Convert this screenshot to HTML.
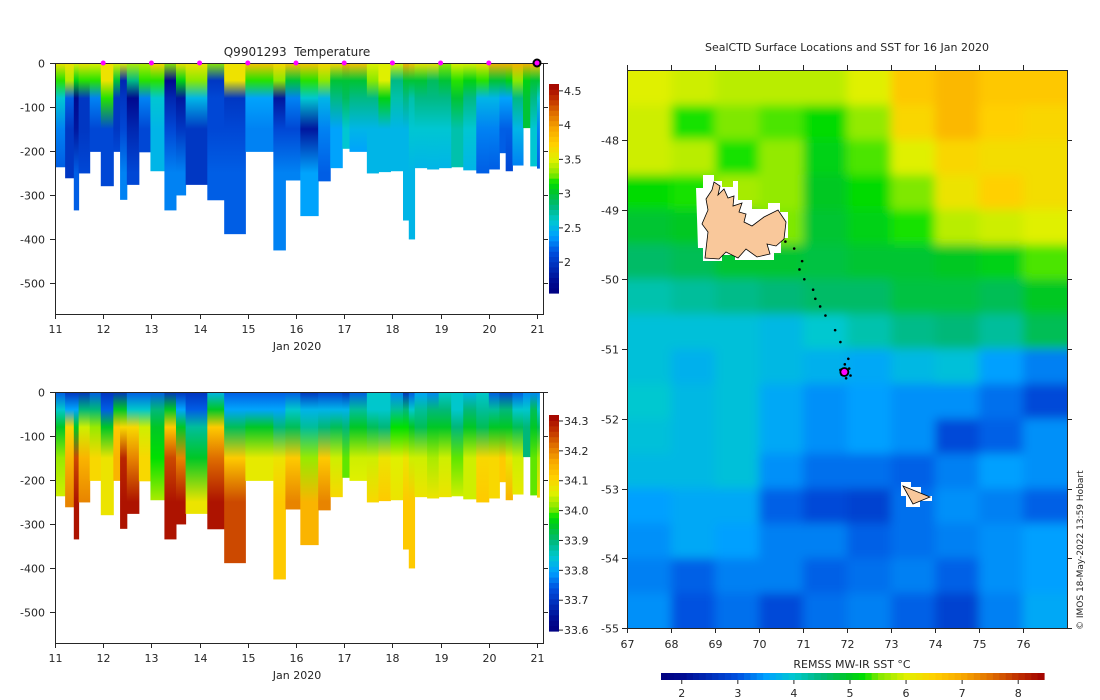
<!DOCTYPE html>
<html><head><meta charset="utf-8"><style>
html,body{margin:0;padding:0;background:#fff;}
svg{display:block;font-family:"DejaVu Sans","Liberation Sans",sans-serif;}
text{fill:#262626;font-size:11px;}
</style></head><body>
<svg id="fig" width="1100" height="700" viewBox="0 0 1100 700" xmlns="http://www.w3.org/2000/svg">
<defs id="defs">
<filter id="blurF" x="-0.1" y="-0.1" width="1.2" height="1.2"><feGaussianBlur stdDeviation="5"/></filter>
<clipPath id="mapClip"><rect x="627" y="70" width="440" height="558"/></clipPath>
<clipPath id="topClip"><rect x="55" y="63" width="488" height="251"/></clipPath>
<clipPath id="botClip"><rect x="55" y="392" width="488" height="251"/></clipPath>
</defs>
<g id="layer"></g>
</svg>
<script>
// ---------- profile data ----------
const profileStarts=[11.00,11.21,11.39,11.49,11.72,11.95,12.21,12.35,12.49,12.74,12.98,13.27,13.51,13.71,14.16,14.51,14.95,15.53,15.78,16.09,16.46,16.71,16.96,17.11,17.47,17.71,17.96,18.22,18.34,18.46,18.72,18.96,19.22,19.47,19.74,20.00,20.22,20.35,20.49,20.71,20.86,21.00];
const profileEnd=21.05;
const maxDepths=[237,262,335,251,202,280,202,311,277,203,246,335,301,277,312,389,202,426,267,348,269,239,195,202,251,248,246,358,401,239,242,239,237,244,251,242,205,246,233,148,235,240];
const levelDepths=[0,40,80,150,250];
const tempProfiles=[
[3.6,3.2,2.6,2.3,2.2],[3.6,3.4,2.2,2.0,2.0],[3.5,3.1,1.7,1.8,2.2],[3.6,3.2,2.0,2.0,2.1],[3.5,3.2,2.3,2.1,2.1],
[3.6,3.6,3.2,2.1,2.1],[3.5,3.0,2.0,2.0,2.1],[3.5,1.9,2.0,2.1,2.3],[3.4,2.8,1.7,1.9,2.1],[3.4,3.2,2.3,2.1,2.1],
[3.7,3.2,2.6,2.5,2.5],[3.3,1.7,1.9,2.1,2.3],[3.6,3.1,1.8,2.0,2.3],[3.6,3.3,2.5,2.0,2.0],[3.3,2.0,2.1,2.1,2.2],
[3.6,3.6,2.0,2.1,2.2],[3.8,3.2,2.4,2.3,2.3],[3.7,3.3,1.8,2.1,2.3],[3.8,3.0,2.3,2.1,2.3],[3.8,3.2,2.6,1.8,2.4],
[3.7,3.3,2.5,2.3,2.2],[3.7,3.0,2.8,2.4,2.4],[3.9,3.0,2.9,2.6,2.6],[3.8,3.0,2.8,2.5,2.4],[3.5,3.3,2.8,2.5,2.5],
[3.5,3.5,3.1,2.5,2.5],[3.5,2.8,2.7,2.5,2.5],[3.9,3.0,2.8,2.5,2.5],[3.8,3.0,2.7,2.6,2.5],[3.6,3.0,2.8,2.6,2.5],
[3.6,2.9,2.8,2.6,2.5],[3.3,3.0,2.8,2.6,2.5],[3.5,3.2,3.0,2.7,2.7],[3.5,3.1,2.8,2.6,2.5],[3.6,3.2,2.5,2.3,2.2],
[3.9,3.0,2.5,2.3,2.2],[3.9,3.0,2.4,2.2,2.2],[3.9,3.1,2.4,2.2,2.1],[3.9,3.3,2.8,2.5,2.3],[3.9,3.1,3.0,3.0,3.0],
[3.8,3.0,2.8,2.6,2.6],[3.8,3.0,2.6,2.3,2.2]];
const salProfiles=[
[33.75,33.85,33.95,34.02,34.05],[33.7,33.8,34.1,34.15,34.2],[33.7,33.8,33.95,34.25,34.3],[33.7,33.9,34.05,34.15,34.2],[33.75,33.9,34.02,34.1,34.1],
[33.7,33.75,33.95,34.08,34.08],[33.7,33.95,34.12,34.15,34.15],[33.7,33.95,34.1,34.28,34.3],[33.75,33.85,34.1,34.2,34.3],[33.75,33.85,34.05,34.1,34.1],
[33.75,33.9,33.95,33.98,34.03],[33.7,33.95,34.12,34.25,34.3],[33.7,33.8,33.95,34.2,34.3],[33.7,33.75,33.88,33.95,34.08],[33.82,33.95,34.12,34.22,34.3],
[33.75,33.8,33.92,34.12,34.25],[33.75,33.8,33.95,34.07,34.07],[33.75,33.8,33.9,34.08,34.12],[33.75,33.85,33.92,34.12,34.2],[33.7,33.82,33.88,34.02,34.15],
[33.72,33.82,33.9,34.12,34.2],[33.72,33.82,33.92,34.05,34.1],[33.7,33.82,33.9,34.0,34.0],[33.75,33.88,33.95,34.05,34.06],[33.85,33.85,33.92,34.05,34.1],
[33.85,33.85,33.9,34.08,34.12],[33.78,33.88,33.98,34.06,34.08],[33.7,33.9,33.98,34.08,34.12],[33.75,33.85,33.95,34.05,34.12],[33.8,33.88,33.92,34.05,34.08],
[33.78,33.9,33.95,34.03,34.08],[33.85,33.9,33.95,34.05,34.08],[33.85,33.85,33.9,34.0,34.05],[33.82,33.9,33.95,34.05,34.05],[33.85,33.88,33.92,34.1,34.12],
[33.75,33.88,33.95,34.1,34.1],[33.72,33.9,33.95,34.12,34.12],[33.72,33.9,33.95,34.08,34.15],[33.75,33.85,33.92,34.05,34.07],[33.78,33.85,33.9,33.9,33.9],
[33.78,33.92,33.95,34.0,34.0],[33.78,33.85,33.92,34.03,34.1]];
const dayTicks=[11,12,13,14,15,16,17,18,19,20,21];
const depthTicks=[0,-100,-200,-300,-400,-500];
const dailyMarkers=[12,13,14,15,16,17,18,19,20];
const tempTicks=[2,2.5,3,3.5,4,4.5];
const salTicks=[33.6,33.7,33.8,33.9,34,34.1,34.2,34.3];
// ---------- map data ----------
const sstLonEdges=[67,68,69,70,71,72,73,74,75,76,77];
const sstLatEdges=[-47,-47.5,-48,-48.5,-49,-49.5,-50,-50.5,-51,-51.5,-52,-52.5,-53,-53.5,-54,-54.5,-55];
const sstGrid=[
[6.0,5.9,5.8,5.8,5.8,6.0,6.6,6.8,6.6,6.6],
[5.9,5.3,5.5,5.4,5.2,5.6,6.4,6.8,6.5,6.4],
[5.9,5.8,5.3,5.6,5.1,5.4,6.0,6.4,6.3,6.3],
[5.2,5.3,5.7,5.6,5.0,5.2,5.5,6.2,6.5,6.3],
[4.9,5.0,5.0,5.5,4.9,5.1,5.3,5.8,5.9,6.0],
[4.6,4.7,4.9,4.9,4.8,4.9,4.9,5.0,5.1,5.4],
[4.2,4.3,4.4,4.5,4.6,4.6,4.8,4.8,4.7,5.0],
[3.9,3.9,3.9,3.8,4.0,4.2,4.4,4.5,4.3,4.7],
[3.9,3.7,3.9,3.8,3.7,3.6,3.8,3.9,3.5,3.3],
[4.0,3.8,3.9,3.6,3.4,3.5,3.4,3.4,3.2,2.9],
[3.9,3.8,3.9,3.6,3.4,3.5,3.4,2.9,3.1,3.4],
[3.8,3.8,3.9,3.4,3.2,3.2,3.1,3.3,3.5,3.4],
[3.5,3.6,3.6,3.1,2.9,2.8,3.2,3.4,3.3,3.1],
[3.4,3.6,3.5,3.3,3.3,3.1,3.2,3.3,3.4,3.5],
[3.3,3.1,3.3,3.3,3.1,3.2,3.3,3.1,3.4,3.5],
[3.4,3.0,3.2,2.9,3.2,3.3,3.1,2.8,3.3,3.6]];
const trackLon=[70.60,70.80,70.98,70.92,71.03,71.23,71.28,71.39,71.51,71.73,71.85,72.03,71.85,72.05,71.98,72.08,71.88,71.95];
const trackLat=[-49.46,-49.56,-49.74,-49.86,-50.00,-50.15,-50.28,-50.39,-50.52,-50.73,-50.90,-51.14,-51.30,-51.28,-51.42,-51.38,-51.37,-51.22];
const lastLon=71.94, lastLat=-51.33;
const lonTicks=[67,68,69,70,71,72,73,74,75,76];
const latTicks=[-48,-49,-50,-51,-52,-53,-54,-55];
const sstTicks=[2,3,4,5,6,7,8];

// ---------- helpers ----------
const NS='http://www.w3.org/2000/svg';
const layer=document.getElementById('layer');
const defs=document.getElementById('defs');
function mk(tag,attrs,parent){const e=document.createElementNS(NS,tag);for(const k in attrs)e.setAttribute(k,attrs[k]);(parent||layer).appendChild(e);return e;}
function txt(x,y,s,anchor,parent,size){const t=mk('text',{x:x,y:y,'text-anchor':anchor||'middle'},parent);if(size)t.style.fontSize=size+'px';t.textContent=s;return t;}
const cmStops=[[0,[0,0,128]],[0.054,[0,10,144]],[0.2,[0,80,224]],[0.274,[0,160,255]],[0.347,[0,200,208]],[0.42,[0,184,120]],[0.493,[0,200,32]],[0.53,[0,224,0]],[0.567,[128,232,0]],[0.64,[224,240,0]],[0.713,[255,208,0]],[0.786,[248,168,0]],[0.86,[224,112,0]],[0.93,[192,48,0]],[1,[160,0,0]]];
function cmap(t){t=Math.max(0,Math.min(1,t));for(let i=1;i<cmStops.length;i++){if(t<=cmStops[i][0]){const a=cmStops[i-1],b=cmStops[i];const f=(t-a[0])/(b[0]-a[0]);const c=a[1].map((v,j)=>Math.round(v+(b[1][j]-v)*f));return 'rgb('+c.join(',')+')';}}return 'rgb(160,0,0)';}

// ---------- profile panels ----------
function xDay(d){return 55+(d-11)*48.2;}
function panel(y0,vals,vmin,vmax,clipId,prefix,title){
  const yD=d=>y0+d*0.44;
  const g=mk('g',{'clip-path':'url(#'+clipId+')'});
  
  
  for(let i=0;i<profileStarts.length;i++){
    const x1=xDay(profileStarts[i]);
    const x2=xDay(i+1<profileStarts.length?profileStarts[i+1]:profileEnd);
    const md=maxDepths[i];
    const gid=prefix+'g'+i;
    const lg=mk('linearGradient',{id:gid,x1:0,y1:0,x2:0,y2:1},defs);
    const pv=vals[i];
    for(let k=0;k<levelDepths.length;k++){
      if(levelDepths[k]<=md) mk('stop',{offset:levelDepths[k]/md,'stop-color':cmap((pv[k]-vmin)/(vmax-vmin))},lg);
    }
    mk('stop',{offset:1,'stop-color':cmap((pv[pv.length-1]-vmin)/(vmax-vmin))},lg);
    const r=mk('rect',{x:x1,y:yD(0),width:x2-x1+0.5,height:yD(md)-yD(0),fill:'url(#'+gid+')'},g);
    
    
  }
  const ax=mk('g',{stroke:'#262626','stroke-width':1,fill:'none'});
  
  
  mk('path',{d:'M55.5 '+(y0)+' V'+(y0+251.5)+' H543.5 V'+y0},ax);
  mk('line',{x1:55,y1:y0+0.5,x2:543,y2:y0+0.5},ax);
  dayTicks.forEach(d=>{const x=Math.round(xDay(d))+0.5;mk('line',{x1:x,y1:y0+251,x2:x,y2:y0+256},ax);
    const t=txt(x,y0+270,String(d));});
  const xl=txt(297,y0+287,'Jan 2020');
  
  
  depthTicks.forEach(v=>{const y=Math.round(yD(-v))+0.5;mk('line',{x1:50,y1:y,x2:55,y2:y},ax);mk('line',{x1:543,y1:y,x2:548,y2:y},ax);
    const t=txt(45,y+4,String(v),'end');});
  if(title){const t=txt(297,y0-7,title,'middle',null,12);t.setAttribute('xml:space','preserve');t.style.whiteSpace='pre';}
}
panel(63,tempProfiles,1.55,4.6,'topClip','temp','Q9901293  Temperature');
panel(392,salProfiles,33.597,34.32,'botClip','sal',null);

dailyMarkers.forEach(d=>{const c=mk('circle',{cx:xDay(d),cy:63,r:2.5,fill:'#ff00ff'});
  
  });
const lastM=mk('circle',{cx:xDay(21),cy:63,r:3.5,fill:'#ff00ff',stroke:'#000','stroke-width':2});



function vbar(x,yTop,yBot,vmin,vmax,ticks,name,fmt){
  const g=mk('g',{});
  
  
  const n=40,h=(yBot-yTop)/n;
  for(let i=0;i<n;i++){mk('rect',{x:x,y:yBot-(i+1)*h,width:10,height:h+0.6,fill:cmap((i+0.5)/n)},g);}
  ticks.forEach(v=>{const y=yBot-(v-vmin)/(vmax-vmin)*(yBot-yTop);
    mk('line',{x1:x+10,y1:y,x2:x+14,y2:y,stroke:'#262626'},g);
    const t=txt(x+15,y+4,fmt(v),'start',g);});
}
vbar(549,84,293,1.55,4.6,tempTicks,'temperature-colorbar',v=>String(v));
vbar(549,415,631,33.597,34.32,salTicks,'salinity-colorbar',v=>v.toFixed(1));

// ---------- map ----------
function xLon(l){return 627+(l-67)*44;}
function yLat(l){return 70+(-47-l)*69.75;}
const mapOuter=mk('g',{'clip-path':'url(#mapClip)'});


const heat=mk('g',{filter:'url(#blurF)'},mapOuter);
for(let r=0;r<sstGrid.length;r++){for(let c=0;c<sstGrid[r].length;c++){
  let x1=xLon(sstLonEdges[c]),x2=xLon(sstLonEdges[c+1]),y1=yLat(sstLatEdges[r]),y2=yLat(sstLatEdges[r+1]);
  if(c===0)x1-=30; if(c===sstGrid[r].length-1)x2+=30; if(r===0)y1-=30; if(r===sstGrid.length-1)y2+=30;
  const cell=mk('rect',{x:x1,y:y1,width:x2-x1+0.5,height:y2-y1+0.5,fill:cmap((sstGrid[r][c]-1.63)/(8.46-1.63))},heat);
  
  
}}
const kerg=mk('g',{},mapOuter);


mk('polygon',{points:'696,188 703,188 703,175 714,175 714,181 722,181 722,187 733,187 733,181 738,181 738,200 752,200 752,209 768,209 768,203 780,203 780,212 788,212 788,238 781,238 781,253 774,253 774,260 735,260 735,255 722,255 722,261 703,261 703,248 698,248',fill:'#fff'},kerg);
mk('polygon',{points:'705,258 708,232 702,224 708,210 706,199 712,190 714,182 720,186 718,195 724,189 728,198 734,196 733,206 742,203 739,212 746,214 744,222 752,226 764,217 778,210 786,222 784,239 776,246 767,244 770,254 757,257 746,249 738,258 726,252 719,259',fill:'#f9c89b',stroke:'#000','stroke-width':0.8},kerg);
const heard=mk('g',{},mapOuter);


mk('polygon',{points:'901,482 911,482 911,487 921,487 921,496 932,496 932,501 920,501 920,507 906,507 906,496 901,496',fill:'#fff'},heard);
mk('polygon',{points:'903,486 930,497 913,504',fill:'#f9c89b',stroke:'#000','stroke-width':0.8},heard);
for(let i=0;i<trackLon.length;i++){const d=mk('circle',{cx:xLon(trackLon[i]),cy:yLat(trackLat[i]),r:1.3,fill:'#000'},mapOuter);
  
  }
const lp=mk('circle',{cx:xLon(lastLon),cy:yLat(lastLat),r:4,fill:'#ff00ff',stroke:'#000','stroke-width':1.8});


const max=mk('g',{stroke:'#262626',fill:'none'});


mk('rect',{x:627.5,y:70.5,width:440,height:558},max);
lonTicks.forEach(l=>{const x=Math.round(xLon(l))+0.5;mk('line',{x1:x,y1:628,x2:x,y2:633},max);mk('line',{x1:x,y1:65,x2:x,y2:70},max);
  const t=txt(x,648,String(l));});
latTicks.forEach(l=>{const y=Math.round(yLat(l))+0.5;mk('line',{x1:622,y1:y,x2:627,y2:y},max);mk('line',{x1:1067,y1:y,x2:1072,y2:y},max);
  const t=txt(619,y+4,String(l),'end');});
const mt=txt(847,51,'SealCTD Surface Locations and SST for 16 Jan 2020');


const hb=mk('g',{});


const hn=60,hx0=661,hx1=1044,hw=(hx1-hx0)/hn;
for(let i=0;i<hn;i++){mk('rect',{x:hx0+i*hw,y:673,width:hw+0.6,height:7,fill:cmap((i+0.5)/hn)},hb);}
sstTicks.forEach(v=>{const x=hx0+(v-1.63)/(8.46-1.63)*(hx1-hx0);
  mk('line',{x1:x,y1:680,x2:x,y2:684,stroke:'#262626'},hb);
  const t=txt(x,697,String(v),'middle',hb);});
const cl=txt(852,668,'REMSS MW-IR SST °C');


const cr=txt(0,0,'© IMOS 18-May-2022 13:59 Hobart','start',null,9);
cr.setAttribute('transform','translate(1083,630) rotate(-90)');


</script>
</body></html>
